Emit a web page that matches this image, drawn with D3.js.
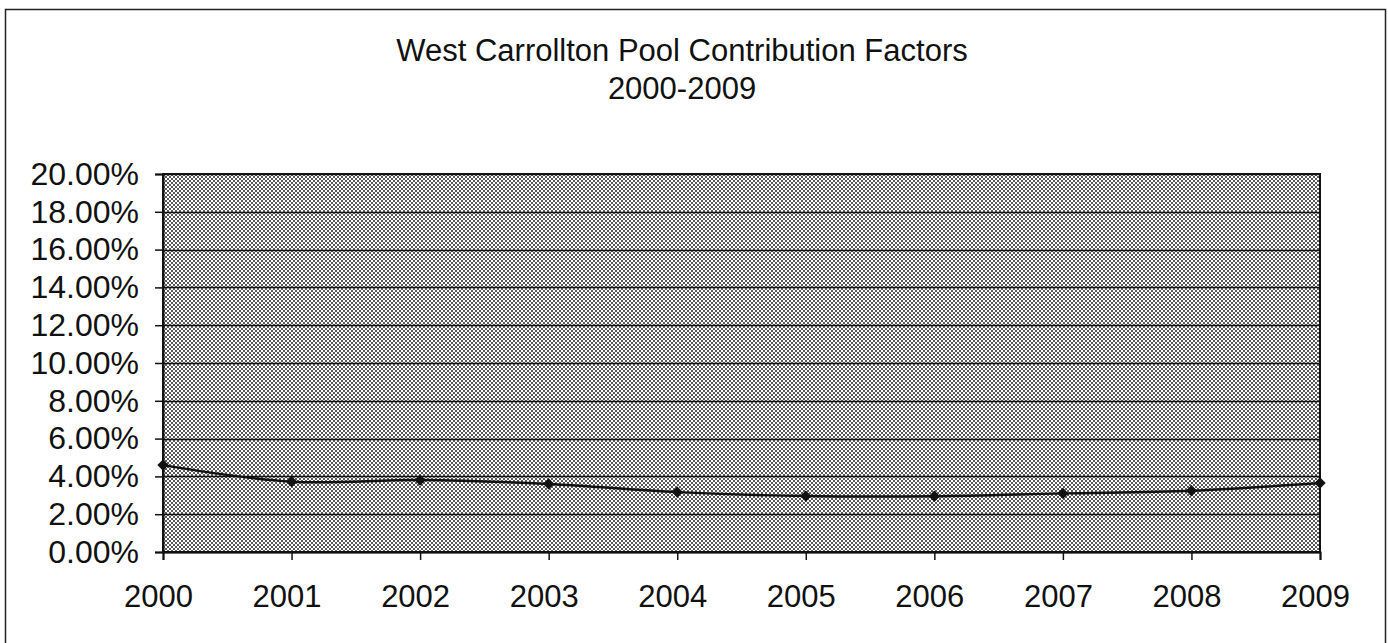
<!DOCTYPE html>
<html>
<head>
<meta charset="utf-8">
<script src="https://d3js.org/d3.v7.min.js"></script>
<style>
    body { margin: 0; background: #fff; }
    text { font-family: "Liberation Sans", Arial, sans-serif; fill: #111; }
</style>
</head>
<body>
<svg id="chart" width="1388" height="643"></svg>
<script>
var years = ["2000", "2001", "2002", "2003", "2004", "2005", "2006", "2007", "2008", "2009"];
var factors = [4.6, 3.72, 3.81, 3.6, 3.17, 2.96, 2.95, 3.1, 3.24, 3.65];
var yTicks = [0, 2, 4, 6, 8, 10, 12, 14, 16, 18, 20];
var titleLines = ["West Carrollton Pool Contribution Factors", "2000-2009"];

function createLineChart(id) {
    var svg = d3.select("#" + id);
    var margin = {top: 174, right: 68, bottom: 91, left: 163};
    var width = +svg.attr("width") - margin.left - margin.right;
    var height = +svg.attr("height") - margin.top - margin.bottom;

    // outer frame of the chart object
    svg.append("rect")
        .attr("x", 5.5)
        .attr("y", 9.5)
        .attr("width", 1380)
        .attr("height", 640)
        .attr("fill", "none")
        .attr("stroke", "#222")
        .attr("stroke-width", 1.5);

    var defs = svg.append("defs");
    var pat = defs.append("pattern")
        .attr("id", "dots")
        .attr("patternUnits", "userSpaceOnUse")
        .attr("width", 4)
        .attr("height", 4);
    pat.append("rect").attr("width", 4).attr("height", 4).attr("fill", "#fff");
    pat.append("rect").attr("x", 0).attr("y", 0).attr("width", 2).attr("height", 2).attr("fill", "#5a5a5a");
    pat.append("rect").attr("x", 2).attr("y", 2).attr("width", 2).attr("height", 2).attr("fill", "#5a5a5a");

    svg.selectAll(".title")
        .data(titleLines)
        .enter().append("text")
        .attr("class", "title")
        .attr("x", 682)
        .attr("y", function (d, i) {
            return 61 + i * 38;
        })
        .attr("text-anchor", "middle")
        .style("font-size", "31px")
        .text(function (d) {
            return d;
        });

    var g = svg.append("g").attr("transform", "translate(" + margin.left + "," + margin.top + ")");

    var x = d3.scalePoint()
        .domain(years)
        .range([0, width]);

    var y = d3.scaleLinear()
        .domain([0, 20])
        .range([height, 0]);

    g.append("rect")
        .attr("width", width)
        .attr("height", height)
        .attr("fill", "url(#dots)");

    g.append("g")
        .attr("class", "grid")
        .selectAll("line")
        .data(yTicks)
        .enter().append("line")
        .attr("x1", 0)
        .attr("x2", width)
        .attr("y1", function (d) { return Math.round(y(d)) + 0.5; })
        .attr("y2", function (d) { return Math.round(y(d)) + 0.5; })
        .attr("stroke", "#111")
        .attr("stroke-width", 1.5);

    g.append("rect")
        .attr("width", width)
        .attr("height", height)
        .attr("fill", "none")
        .attr("stroke", "#111")
        .attr("stroke-width", 2);

    var yAxis = g.append("g")
        .call(d3.axisLeft(y)
            .tickValues(yTicks)
            .tickSize(8)
            .tickPadding(16)
            .tickFormat(function (d) {
                return d.toFixed(2) + "%";
            }));
    yAxis.select(".domain").attr("stroke", "#111").attr("stroke-width", 2);
    yAxis.selectAll(".tick line").attr("stroke", "#111").attr("stroke-width", 1.5);
    yAxis.selectAll("text")
        .style("font-size", "32px")
        .attr("fill", "#111")
        .attr("font-family", "Liberation Sans, Arial, sans-serif");

    var xAxis = g.append("g")
        .attr("transform", "translate(0," + height + ")")
        .call(d3.axisBottom(x).tickSize(8).tickPadding(25));
    xAxis.select(".domain").attr("stroke", "#111").attr("stroke-width", 2);
    xAxis.selectAll(".tick line").attr("stroke", "#111").attr("stroke-width", 1.5);
    xAxis.selectAll("text")
        .attr("dx", "-5")
        .style("font-size", "31px")
        .attr("fill", "#111")
        .attr("font-family", "Liberation Sans, Arial, sans-serif");

    var line = d3.line()
        .x(function (d, i) { return x(years[i]); })
        .y(function (d) { return y(d); })
        .curve(d3.curveCatmullRom.alpha(0));

    g.append("path")
        .datum(factors)
        .attr("d", line)
        .attr("fill", "none")
        .attr("stroke", "#111")
        .attr("stroke-width", 2.4);

    var diamond = d3.symbol().type(d3.symbolSquare).size(64);
    g.selectAll(".pt")
        .data(factors)
        .enter().append("path")
        .attr("class", "pt")
        .attr("d", diamond)
        .attr("transform", function (d, i) {
            return "translate(" + x(years[i]) + "," + y(d) + ") rotate(45)";
        })
        .attr("fill", "#111");
}

createLineChart("chart");
</script>
</body>
</html>
